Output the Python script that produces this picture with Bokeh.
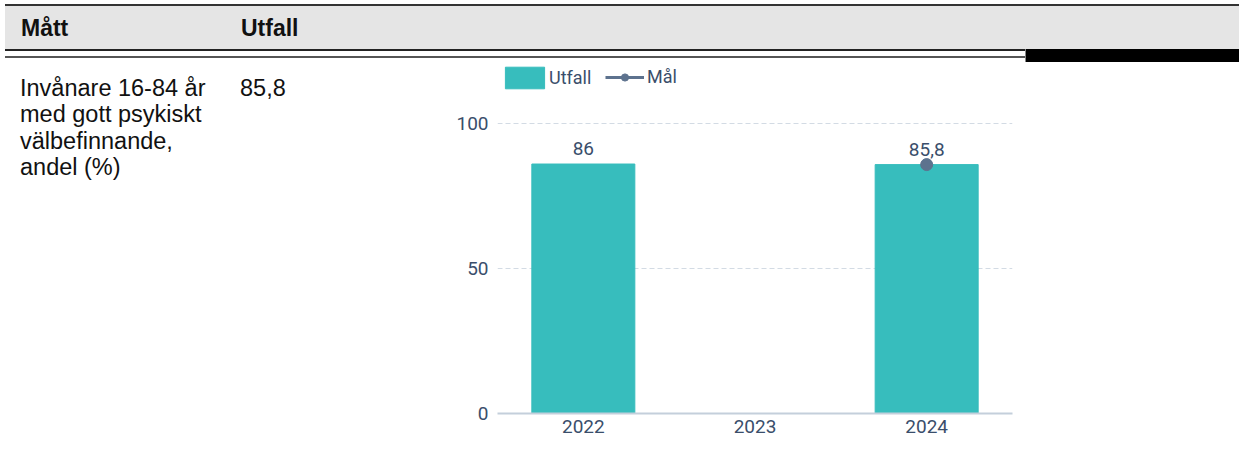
from bokeh.plotting import figure
from bokeh.models import (ColumnDataSource, FactorRange, Range1d, FixedTicker, Legend,
                          LegendItem, Div)
from bokeh.layouts import column, row
from bokeh.embed import file_html
from bokeh.resources import INLINE
from bokeh.core.properties import value
import math

# ---- data ----
years = ["2022", "2023", "2024"]
utfall = [86.0, float("nan"), 85.8]
mal = [float("nan"), float("nan"), 85.8]
yticks = [0, 50, 100]
header_cols = ["Mått", "Utfall"]
measure_lines = ["Invånare 16-84 år", "med gott psykiskt", "välbefinnande,", "andel (%)"]
measure_value = "85,8"

TEAL = "#37bdbd"
TXT = "#3a4e6b"
DOT = "#5d728e"
FONT = "Roboto"


def fmt(v):
    return ("%g" % v).replace(".", ",")


# ---- header (table head) ----
header_html = f"""
<div style="position:relative;left:0px;top:-1px;width:1235px;height:57px;font-family:'Liberation Sans',Arial,sans-serif;">
  <div style="position:absolute;left:0;top:0;width:1235px;height:2px;background:#333;"></div>
  <div style="position:absolute;left:0;top:2px;width:1235px;height:43px;background:#e5e5e5;"></div>
  <div style="position:absolute;left:0;top:45px;width:1021px;height:2px;background:#222;"></div>
  <div style="position:absolute;left:0;top:52px;width:1021px;height:2px;background:#555;"></div>
  <div style="position:absolute;left:1020px;top:45px;width:1px;height:13px;background:#888;"></div>
  <div style="position:absolute;left:1021px;top:45px;width:214px;height:13px;background:#000;"></div>
  <div style="position:absolute;left:16px;top:14px;font-size:23px;line-height:20px;font-weight:bold;color:#111;white-space:nowrap;">{header_cols[0]}</div>
  <div style="position:absolute;left:236px;top:14px;font-size:23px;line-height:20px;font-weight:bold;color:#111;white-space:nowrap;">{header_cols[1]}</div>
</div>
"""
header = Div(text=header_html, width=1223, height=52)

cell_html = f"""
<div style="position:relative;width:432px;height:379px;font-family:'Liberation Sans',Arial,sans-serif;color:#111;">
  <div style="position:absolute;left:15px;top:8px;font-size:23.5px;line-height:26.3px;white-space:nowrap;">{'<br>'.join(measure_lines)}</div>
  <div style="position:absolute;left:235px;top:8px;font-size:23.5px;line-height:26.3px;white-space:nowrap;">{measure_value}</div>
</div>
"""
cell = Div(text=cell_html, width=432, height=379)

# ---- chart ----
p = figure(x_range=FactorRange(*years, range_padding=0), y_range=Range1d(0, 121),
           width=791, height=379, output_backend="svg", toolbar_location=None,
           min_border_left=55, min_border_right=221, min_border_top=0, min_border_bottom=28)
p.outline_line_color = None
p.background_fill_color = "white"
p.border_fill_color = "white"

src = ColumnDataSource(dict(x=years, top=utfall, mal=mal))
bars = p.vbar(x="x", top="top", width=0.6, source=src, fill_color=TEAL, line_color=TEAL)
mal_line = p.line(x="x", y="mal", source=src, line_color=DOT, line_width=3)
mal_dot = p.scatter(x="x", y="mal", source=src, size=12, fill_color=DOT, line_color=DOT)

lx = [y for y, v in zip(years, utfall) if not math.isnan(v)]
lv = [v for v in utfall if not math.isnan(v)]
lsrc = ColumnDataSource(dict(x=lx, y=lv, t=[fmt(v) for v in lv]))
p.text(x="x", y="y", text="t", source=lsrc, text_align="center", text_baseline="bottom",
       y_offset=-9, text_font=value(FONT), text_font_size="19px", text_color=TXT)

p.yaxis.ticker = FixedTicker(ticks=yticks)
p.yaxis.axis_line_color = None
p.yaxis.major_tick_line_color = None
p.yaxis.major_tick_out = 0
p.yaxis.minor_tick_line_color = None
p.yaxis.minor_tick_out = 0
p.yaxis.major_label_standoff = 9
p.xaxis.axis_line_color = "#c4cfdb"
p.xaxis.axis_line_width = 2
p.xaxis.major_tick_line_color = None
p.xaxis.major_tick_out = 0
p.xaxis.major_label_standoff = 6
for ax in (p.xaxis, p.yaxis):
    ax.major_label_text_font = FONT
    ax.major_label_text_font_size = "19px"
    ax.major_label_text_color = TXT
p.xgrid.grid_line_color = None
p.ygrid.grid_line_color = "#d3dbe4"
p.ygrid.grid_line_dash = "5 3"

common = dict(orientation="horizontal", padding=0, margin=0, border_line_color=None,
              background_fill_alpha=0, label_text_font=FONT, label_text_font_size="18px",
              label_text_color=TXT)
legend1 = Legend(items=[LegendItem(label="Utfall", renderers=[bars])],
                 location=(3, 322), glyph_width=49, glyph_height=27, label_height=27,
                 label_standoff=0, **common)
legend2 = Legend(items=[LegendItem(label="Mål", renderers=[mal_line, mal_dot])],
                 location=(108, 326), glyph_width=39, glyph_height=18, label_height=18,
                 label_standoff=3, **common)
p.add_layout(legend1, "center")
p.add_layout(legend2, "center")

layout = column(header, row(cell, p))
open("out.html", "w").write(file_html(layout, INLINE))
